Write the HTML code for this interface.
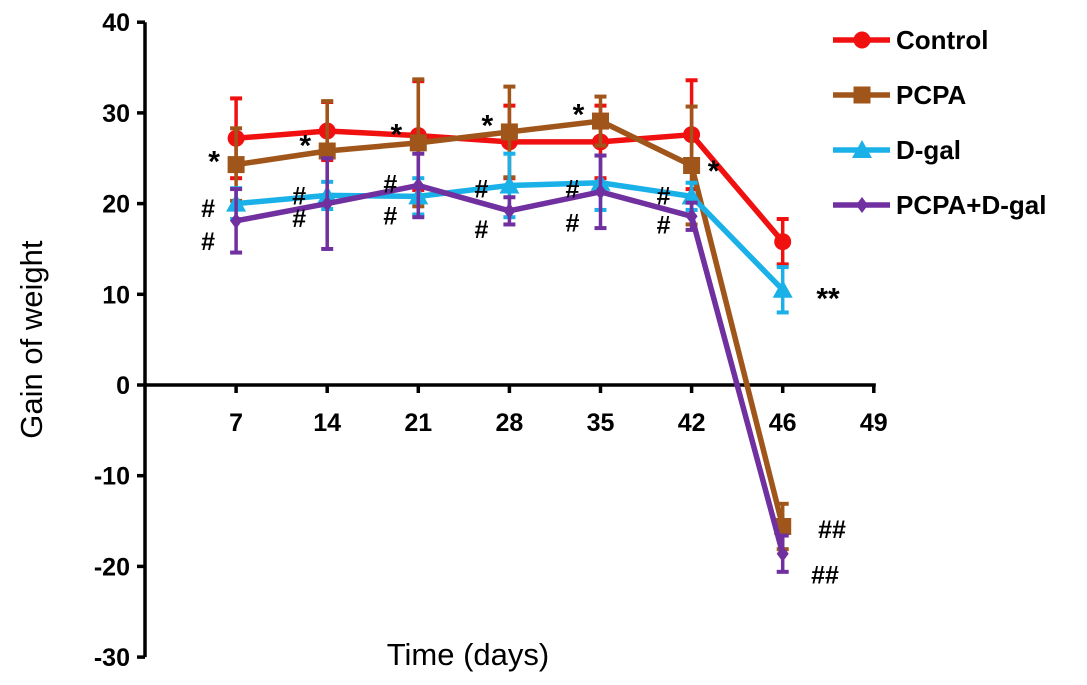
<!DOCTYPE html>
<html><head><meta charset="utf-8"><style>
body{margin:0;background:#fff;}
svg text{font-family:"Liberation Sans",Arial,sans-serif;}
</style></head><body>
<svg id="chart" width="1087" height="680"></svg>
<script>
const categories=["7","14","21","28","35","42","46","49"];
const yTicks=[40,30,20,10,0,-10,-20,-30];
const seriesNames=["Control","PCPA","D-gal","PCPA+D-gal"];
const controlVals=[27.2,28.0,27.5,26.8,26.8,27.6,15.8];
const controlErr=[4.4,3.2,6.0,4.0,4.0,6.0,2.5];
const pcpaVals=[24.3,25.8,26.7,27.9,29.1,24.2,-15.6];
const pcpaErr=[4.0,5.5,7.0,5.0,2.7,6.5,2.5];
const dgalVals=[20.0,20.9,20.8,22.0,22.3,20.8,10.5];
const dgalErr=[1.7,1.5,2.0,3.5,3.0,1.5,2.5];
const comboVals=[18.1,20.0,22.0,19.2,21.3,18.6,-18.6];
const comboErr=[3.5,5.0,3.5,1.5,4.0,1.5,2.0];
// annotations: [index, value, label]
const annotStars=[[0,25.5,"*"],[1,27.3,"*"],[2,28.5,"*"],[3,29.5,"*"],[4,30.7,"*"],[5,24.5,"*"]];
const annotHash=[[0,19.6,"#"],[0,16.0,"#"],[1,21.0,"#"],[1,18.5,"#"],[2,22.3,"#"],[2,18.8,"#"],[3,21.8,"#"],[3,17.3,"#"],[4,21.8,"#"],[4,18.0,"#"],[5,21.0,"#"],[5,17.8,"#"]];

const svg=document.getElementById('chart');
const NS="http://www.w3.org/2000/svg";
const x0=145,step=91.1;
function X(i){return x0+step*(i+1);}
function Y(v){return 385-v*9.07;}
function mk(tag,attrs,parent){const e=document.createElementNS(NS,tag);for(const k in attrs)e.setAttribute(k,attrs[k]);(parent||svg).appendChild(e);return e;}

let ya=mk('line',{x1:x0,y1:Y(40),x2:x0,y2:Y(-30),stroke:'#000','stroke-width':3.5});


let xa=mk('line',{x1:x0,y1:Y(0),x2:X(7)+2,y2:Y(0),stroke:'#000','stroke-width':3.5});


yTicks.forEach(t=>{
  mk('line',{x1:x0-8,y1:Y(t),x2:x0,y2:Y(t),stroke:'#000','stroke-width':3.5});
  const tx=mk('text',{x:x0-15,y:Y(t)+9,'text-anchor':'end','font-size':25,'font-weight':'bold'});
  tx.textContent=t;
  
  
});
categories.forEach((c,i)=>{
  mk('line',{x1:X(i),y1:Y(0),x2:X(i),y2:Y(0)+8,stroke:'#000','stroke-width':3.5});
  const tx=mk('text',{x:X(i),y:Y(0)+46,'text-anchor':'middle','font-size':25,'font-weight':'bold'});
  tx.textContent=c;
  
  
});
let yt=mk('text',{x:42,y:Y(5),'text-anchor':'middle','font-size':31,transform:`rotate(-90 42 ${Y(5)})`});
yt.textContent="Gain of weight";


let xt=mk('text',{x:468,y:665,'text-anchor':'middle','font-size':31});
xt.textContent="Time (days)";



const series=[[controlVals,controlErr,'#f01010','circle'],[pcpaVals,pcpaErr,'#a0561a','square'],[dgalVals,dgalErr,'#1ab0e8','triangle'],[comboVals,comboErr,'#7030a0','diamond']];
function marker(shape,cx,cy,col,g){
  if(shape==='circle')return mk('circle',{cx,cy,r:8.5,fill:col},g);
  if(shape==='square')return mk('rect',{x:cx-8.5,y:cy-8.5,width:17,height:17,fill:col},g);
  if(shape==='triangle')return mk('polygon',{points:`${cx},${cy-10} ${cx+10},${cy+8} ${cx-10},${cy+8}`,fill:col},g);
  return mk('polygon',{points:`${cx},${cy-8} ${cx+6},${cy} ${cx},${cy+8} ${cx-6},${cy}`,fill:col},g);
}
series.forEach((s,si)=>{
  const [vals,errs,col,shape]=s;
  const g=mk('g',{});
  
  
  vals.forEach((v,i)=>{
    mk('line',{x1:X(i),y1:Y(v-errs[i]),x2:X(i),y2:Y(v+errs[i]),stroke:col,'stroke-width':3.5},g);
    mk('line',{x1:X(i)-6,y1:Y(v+errs[i]),x2:X(i)+6,y2:Y(v+errs[i]),stroke:col,'stroke-width':4},g);
    mk('line',{x1:X(i)-6,y1:Y(v-errs[i]),x2:X(i)+6,y2:Y(v-errs[i]),stroke:col,'stroke-width':4},g);
  });
  mk('polyline',{points:vals.map((v,i)=>X(i)+','+Y(v)).join(' '),fill:'none',stroke:col,'stroke-width':5.5},g);
  vals.forEach((v,i)=>{
    const m=marker(shape,X(i),Y(v),col,g);
    
    
  });
  const ly=40+si*55;
  const lg=mk('g',{});
  
  
  mk('line',{x1:833,y1:ly,x2:890,y2:ly,stroke:col,'stroke-width':5.5},lg);
  marker(shape,862,ly,col,lg);
  const lt=mk('text',{x:896,y:ly+9,'font-size':26,'font-weight':'bold'},lg);
  lt.textContent=seriesNames[si];
});
annotStars.forEach(a=>{
  const t=mk('text',{x:X(a[0])-(a[0]===5?-22:22),y:Y(a[1])+18,'text-anchor':'middle','font-size':30,'font-weight':'bold'});
  t.textContent=a[2];
  
  
});
annotHash.forEach(a=>{
  const t=mk('text',{x:X(a[0])-28,y:Y(a[1])+10,'text-anchor':'middle','font-size':25,'font-weight':'bold'});
  t.textContent=a[2];
  
  
});
[[10,"**",828,14,30],[-16,"##",832,8,25],[-21,"##",825,8,25]].forEach(a=>{
  const t=mk('text',{x:a[2],y:Y(a[0])+a[3],'text-anchor':'middle','font-size':a[4],'font-weight':'bold'});
  t.textContent=a[1];
  
  
});
</script>
</body></html>
